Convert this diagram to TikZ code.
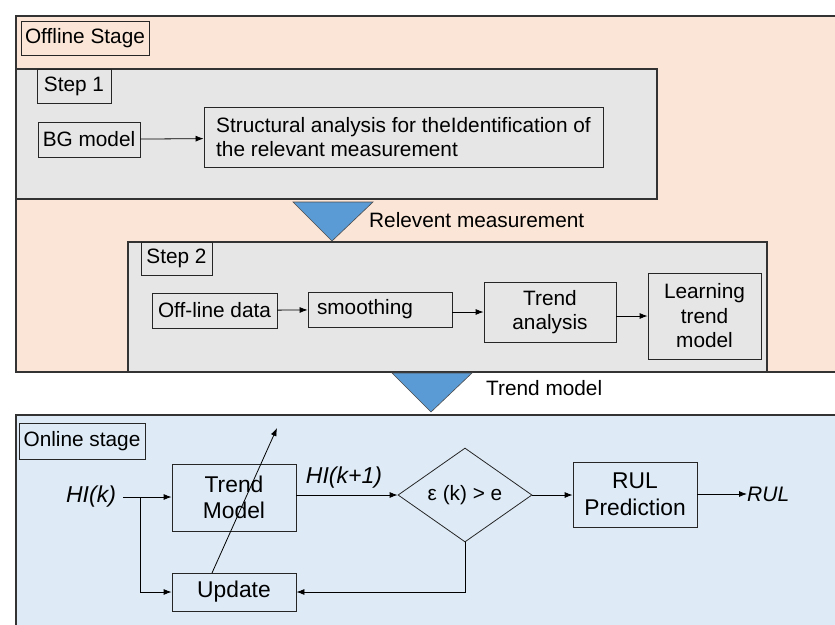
\documentclass[tikz,border=0pt]{standalone}
\usepackage{fontspec}
\setmainfont{Liberation Sans}
\usetikzlibrary{shapes.geometric,arrows.meta}
\definecolor{peach}{HTML}{FBE5D6}
\definecolor{stepgray}{HTML}{E6E6E6}
\definecolor{paleblue}{HTML}{DEEBF7}
\definecolor{triblue}{HTML}{5B9BD5}
\tikzset{
  region/.style={draw=black!80,line width=1.2pt},
  tag/.style={draw=black!85,line width=0.8pt,inner sep=0pt,minimum height=34pt},
  blk/.style={draw=black!85,line width=0.8pt,inner sep=0pt,align=center},
  bigblk/.style={blk,font=\fontsize{22.8}{26.5}\selectfont},
  flow/.style={->,line width=0.8pt},
  funnel/.style={fill=triblue,draw=black!70,line width=0.6pt},
  signal/.style={inner sep=0pt,font=\fontsize{23}{27}\selectfont\itshape}
}
\begin{document}
\begin{tikzpicture}[x=1pt,y=-1pt,>={Latex[length=8pt,width=6pt]},font=\fontsize{20.8}{24.5}\selectfont]
  \useasboundingbox (0,0) rectangle (835,624);
  \clip (0,0) rectangle (835,624);
  % offline stage
  \draw[region,fill=peach] (16,16) rectangle (850,372);
  \node[tag,minimum width=128pt] (offlbl) at (85,38) {Offline Stage};
  % step 1
  \draw[region,fill=stepgray] (16,69) rectangle (657,199);
  \node[tag,minimum width=74pt] (step1) at (74,86) {Step 1};
  \node[blk,minimum width=102pt,minimum height=35pt] (bg) at (89,139.5) {BG model};
  \node[blk,align=left,minimum width=399pt,minimum height=60pt] (sa) at (403.5,137)
    {Structural analysis for theIdentification of\\the relevant measurement};
  \draw[flow] (bg) -- (sa);
  \draw[funnel] (293,202) -- (373,202) -- (332,241) -- cycle;
  \node[anchor=west,inner sep=0pt] (relmeas) at (369,220) {Relevent measurement};
  % step 2
  \draw[region,fill=stepgray] (128,242) rectangle (767,372);
  \node[tag,minimum width=71pt,minimum height=33pt] (step2) at (176.5,258.5) {Step 2};
  \node[blk,minimum width=125pt,minimum height=35pt] (offdata) at (214.5,310.5) {Off-line data};
  \node[blk,align=left,text width=126pt,minimum width=144pt,minimum height=35pt] (smooth) at (380,309.5) {smoothing};
  \node[blk,minimum width=132pt,minimum height=60pt] (trendan) at (550,312) {Trend\\analysis};
  \node[blk,minimum width=113pt,minimum height=86pt] (learn) at (704.5,316) {Learning\\trend\\model};
  \draw[flow] (offdata) -- (smooth);
  \draw[flow] (smooth.east |- trendan) -- (trendan.west);
  \draw[flow] (trendan.east |- learn) -- (learn.west);
  \draw[funnel] (392,373) -- (472,373) -- (431,412) -- cycle;
  \node[anchor=west,inner sep=0pt] (trendlbl) at (486,388) {Trend model};
  % online stage
  \draw[region,fill=paleblue] (16,415) rectangle (850,640);
  \node[tag,minimum width=126pt,minimum height=36pt] (onlbl) at (82,441) {Online stage};
  \node[signal] (hik) at (91,497) {HI(k)};
  \node[bigblk,minimum width=124pt,minimum height=67pt] (tm) at (234,497.5) {Trend\\Model};
  \node[bigblk,minimum width=124pt,minimum height=38pt] (upd) at (234,592) {Update};
  \node[blk,diamond,minimum width=134pt,minimum height=71pt] (chk) at (465,495) {ε (k) > e};
  \node[bigblk,minimum width=124pt,minimum height=65pt] (rul) at (635,494.5) {RUL\\Prediction};
  \node[signal,anchor=west,font=\fontsize{21}{25}\selectfont\itshape] (rulout) at (747,494) {RUL};
  \node[signal] (hinext) at (344,478) {HI(k+1)};
  \coordinate (feed) at (123,497);
  \coordinate (split) at (140,497);
  \coordinate (updfoot) at (212,573);
  \coordinate (updtip) at (277,428);
  \draw[flow] (feed) -- (tm.west |- feed);
  \draw[flow] (split) |- (upd.west);
  \draw[flow] (updfoot) -- (updtip);
  \draw[flow] (tm.east |- chk) -- (chk.west);
  \draw[flow] (chk.east) -- (rul.west |- chk);
  \draw[flow] (rul.east |- rulout) -- (rulout.west);
  \draw[flow] (chk.south) |- (upd.east);
\end{tikzpicture}
\end{document}
